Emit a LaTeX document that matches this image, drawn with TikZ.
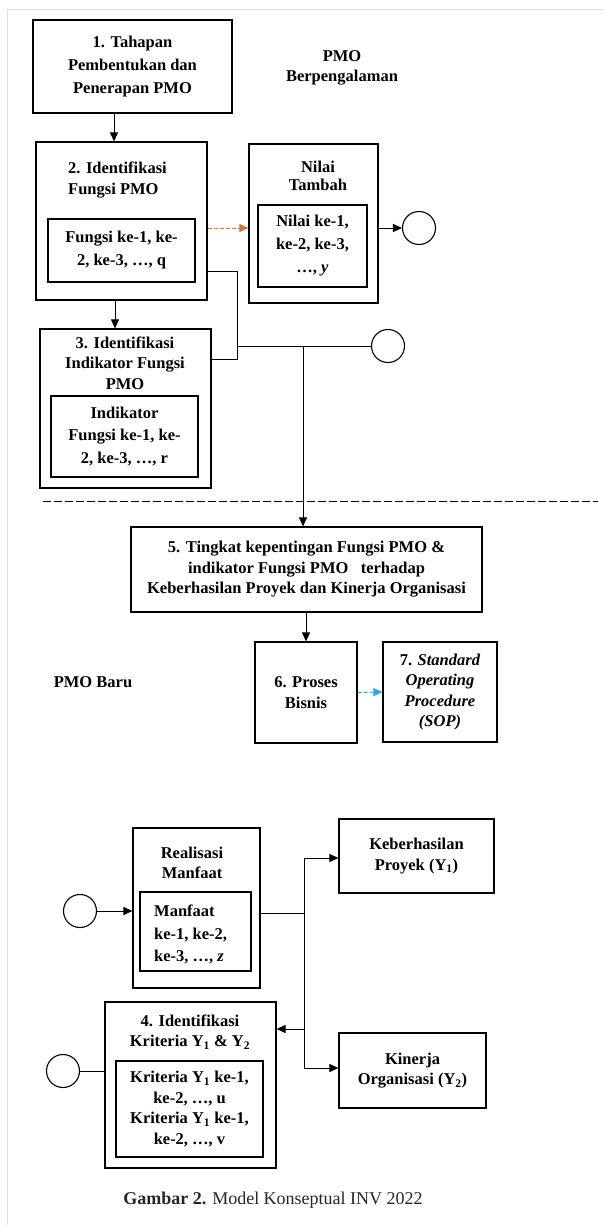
\documentclass[tikz,border=0pt]{standalone}
\usepackage{fontspec}
\setmainfont{Liberation Serif}
\usetikzlibrary{arrows.meta}
\definecolor{orangeArr}{RGB}{200,120,55}
\definecolor{cyanArr}{RGB}{40,170,220}
\begin{document}
\begin{tikzpicture}[x=1pt,y=-1pt,
  box/.style={draw, line width=1.2pt, inner sep=0pt},
  txt/.style={font=\fontsize{16.5}{20.5}\selectfont\bfseries, align=center, inner sep=0pt},
  conn/.style={line width=1pt},
  arr/.style={conn, -{Triangle[length=9pt,width=8pt]}},
  circ/.style={draw, circle, line width=1.1pt, minimum size=33pt, inner sep=0pt}]
\useasboundingbox (0,0) rectangle (604,1225);
\draw[gray!25, line width=1pt] (7,1225) -- (7,10) -- (604,10);

% Box 1
\node[box, txt, font=\fontsize{16.5}{23}\selectfont\bfseries, minimum width=199pt, minimum height=93pt] (b1) at (132.5,66.5) {1. Tahapan\\Pembentukan dan\\Penerapan PMO};
\node[txt] (pmoB) at (342,68) {PMO\\Berpengalaman};

% Box 2
\node[box, minimum width=171pt, minimum height=158pt] (b2) at (121.5,221) {};
\node[txt, align=left, anchor=west] (t2) at (68,180) {2. Identifikasi\\Fungsi PMO};
\node[box, txt, font=\fontsize{16.5}{23}\selectfont\bfseries, minimum width=147pt, minimum height=63pt] (b2in) at (121.5,250.5) {Fungsi ke-1, ke-\\2, ke-3, …, q};

% Nilai Tambah
\node[box, minimum width=129pt, minimum height=159pt] (bN) at (313.5,223.5) {};
\node[txt, font=\fontsize{16.5}{18.5}\selectfont\bfseries] (tN) at (318,176) {Nilai\\Tambah};
\node[box, txt, font=\fontsize{16.5}{23}\selectfont\bfseries, minimum width=109pt, minimum height=82pt] (bNin) at (312.5,246) {Nilai ke-1,\\ke-2, ke-3,\\…, \textit{y}};
\node[circ] (c1) at (419,228) {};

% Box 3
\node[box, minimum width=171pt, minimum height=159pt] (b3) at (125.5,408.5) {};
\node[txt] (t3) at (125,363) {3. Identifikasi\\Indikator Fungsi\\PMO};
\node[box, txt, font=\fontsize{16.5}{22.5}\selectfont\bfseries, minimum width=147pt, minimum height=81pt] (b3in) at (124.5,436.5) {Indikator\\Fungsi ke-1, ke-\\2, ke-3, …, r};
\node[circ] (c2) at (388,346) {};

% separator
\draw[line width=1pt, dash pattern=on 8pt off 3pt] (43,501) -- (598,501);

% Box 5,6,7
\node[box, txt, minimum width=351pt, minimum height=85pt] (b5) at (306.5,569.5) {5. Tingkat kepentingan Fungsi PMO \&\\indikator Fungsi PMO\ \ \ terhadap\\Keberhasilan Proyek dan Kinerja Organisasi};
\node[box, txt, minimum width=102pt, minimum height=101pt] (b6) at (306,692.5) {6. Proses\\Bisnis};
\node[box, txt, minimum width=114pt, minimum height=100pt] (b7) at (440,692) {7. \textit{Standard}\\\textit{Operating}\\\textit{Procedure}\\\textit{(SOP)}};
\node[txt] (pmoN) at (93,682) {PMO Baru};

% Keberhasilan / Realisasi
\node[box, txt, minimum width=155pt, minimum height=74pt] (bK) at (416.5,856) {Keberhasilan\\Proyek (Y\textsubscript{1})};
\node[box, minimum width=127pt, minimum height=160pt] (bR) at (196.5,908) {};
\node[txt] (tR) at (192,863) {Realisasi\\Manfaat};
\node[box, minimum width=111pt, minimum height=79pt] (bRin) at (195.5,931.5) {};
\node[txt, font=\fontsize{16.5}{22.5}\selectfont\bfseries, align=left, anchor=west] (tRin) at (154,934.5) {Manfaat\\ke-1, ke-2,\\ke-3, …, \textit{z}};
\node[circ] (c3) at (80,911) {};

% Box 4
\node[box, minimum width=171pt, minimum height=166pt] (b4) at (190.5,1085) {};
\node[txt] (t4) at (190,1032) {4. Identifikasi\\Kriteria Y\textsubscript{1} \& Y\textsubscript{2}};
\node[box, txt, minimum width=147pt, minimum height=96pt] (b4in) at (189.5,1109) {Kriteria Y\textsubscript{1} ke-1,\\ke-2, …, u\\Kriteria Y\textsubscript{1} ke-1,\\ke-2, …, v};
\node[circ] (c4) at (63,1071) {};
\node[box, txt, minimum width=147pt, minimum height=75pt] (bKin) at (412.5,1070.5) {Kinerja\\Organisasi (Y\textsubscript{2})};

% caption
\node[inner sep=0pt, font=\fontsize{18}{21}\selectfont, text=black!85] (cap) at (273,1200) {\textbf{Gambar 2.} Model Konseptual INV 2022};

% coordinates
\coordinate (a1) at (114,0);
\coordinate (a2) at (115,0);
\coordinate (ym) at (0,228);
\coordinate (j1) at (237,271);
\coordinate (j2) at (237,359);
\coordinate (j4) at (237,346);
\coordinate (j5) at (303,346);
\coordinate (j3) at (304,913);
\coordinate (jt) at (304,858);
\coordinate (jb) at (304,1068);
\coordinate (jm) at (304,1029);

% connectors
\draw[arr] (b1.south -| a1) -- (b2.north -| a1);
\draw[arr] (b2.south -| a2) -- (b3.north -| a2);
\draw[arr, orangeArr, dash pattern=on 4pt off 2pt] (b2.east |- ym) -- (bN.west |- ym);
\draw[arr] (bN.east |- c1) -- (c1.west);
\draw[conn] (b2.east |- j1) -- (j1) -- (j2) -- (b3.east |- j2);
\draw[conn] (j4) -- (c2.west);
\draw[arr] (j5) -- (b5.north -| j5);
\draw[arr] (b5.south -| b6) -- (b6.north);
\draw[arr, cyanArr, dash pattern=on 4pt off 2pt] (b6.east) -- (b7.west);
\draw[arr] (c3.east) -- (bR.west |- c3);
\draw[conn] (bR.east |- j3) -- (j3);
\draw[conn] (jt) -- (jb);
\draw[arr] (jt) -- (bK.west |- jt);
\draw[arr] (jb) -- (bKin.west |- jb);
\draw[arr] (jm) -- (b4.east |- jm);
\draw[conn] (c4.east) -- (b4.west |- c4);
\end{tikzpicture}
\end{document}
